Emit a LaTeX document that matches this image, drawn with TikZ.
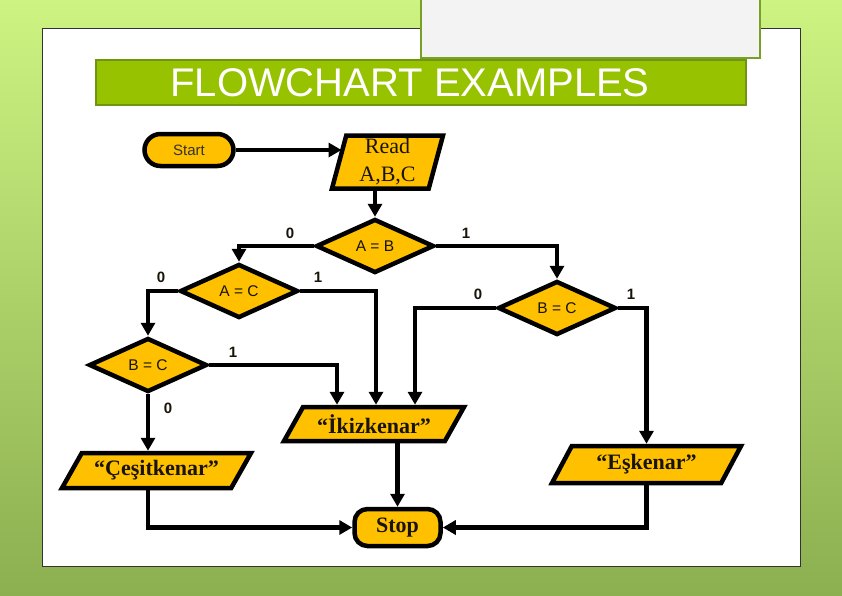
\documentclass[tikz,border=0pt]{standalone}
\usepackage{fontspec}
\setmainfont{Liberation Serif}
\setsansfont{Liberation Sans}
\usetikzlibrary{shapes.geometric,arrows.meta,calc}
\definecolor{gold}{RGB}{255,192,0}
\definecolor{bgtop}{RGB}{205,243,130}
\definecolor{bgbot}{RGB}{140,175,80}
\definecolor{titlefill}{RGB}{151,194,0}
\definecolor{titlebord}{RGB}{110,150,20}
\definecolor{grayfill}{RGB}{243,243,243}
\definecolor{graybord}{RGB}{120,160,40}
\definecolor{txt}{RGB}{25,20,10}
\tikzset{
  box/.style={draw=black, line width=4.5pt, fill=gold, text=txt},
  term/.style={box, rectangle, rounded corners=16pt, minimum width=89pt, minimum height=32pt, inner sep=0pt},
  stopbox/.style={box, rectangle, rounded corners=13pt, minimum width=86pt, minimum height=37pt, inner sep=0pt, font=\bfseries\fontsize{22}{24}\selectfont},
  dec/.style={box, diamond, minimum width=118pt, minimum height=54pt, inner sep=0pt, font=\sffamily\fontsize{15.5}{15.5}\selectfont},
  io/.style={box, trapezium, trapezium left angle=45, trapezium right angle=135, trapezium stretches body, inner sep=0pt, font=\bfseries\fontsize{22}{24}\selectfont},
  readbox/.style={box, trapezium, trapezium left angle=73, trapezium right angle=107, trapezium stretches body, inner sep=0pt, align=center, font=\fontsize{22}{28}\selectfont},
  conn/.style={line width=4.5pt, -{Triangle[length=13pt,width=14pt]}},
  lbl/.style={font=\sffamily\bfseries\fontsize{15}{15}\selectfont, text=txt}
}
\begin{document}
\begin{tikzpicture}[x=1pt,y=-1pt]
\useasboundingbox (0,0) rectangle (842,595);
\shade[top color=bgtop, bottom color=bgbot] (0,0) rectangle (842,595);
\draw[draw=black!80, line width=1pt, fill=white] (42,28) rectangle (800,566);
\draw[draw=graybord, line width=2pt, fill=grayfill] (421,-5) rectangle (760,58);
\node[draw=titlebord, line width=1.5pt, fill=titlefill, minimum width=650pt, minimum height=45pt, inner sep=0pt] (title) at (421,82.5) {};
\node[font=\sffamily\fontsize{40}{40}\selectfont, text=white, inner sep=0pt] (ttl) at (410,83) {FLOWCHART EXAMPLES};

\node[term, font=\sffamily\fontsize{15}{15}\selectfont, text=black!80] (start) at (189,150) {Start};
\node[readbox, minimum width=111pt, minimum height=53pt] (read) at (387.5,162) {Read\\A,B,C};
\node[dec] (ab) at (375,246) {A = B};
\node[dec] (ac) at (239,291) {A = C};
\node[dec] (bcl) at (148,365) {B = C};
\node[dec] (bcr) at (557,308) {B = C};
\node[io, minimum width=180pt, minimum height=34pt] (ikiz) at (374,424) {“İkizkenar”};
\node[io, minimum width=189pt, minimum height=35pt] (ces) at (156.5,470.5) {“Çeşitkenar”};
\node[io, minimum width=189pt, minimum height=37pt] (esk) at (646.5,464.5) {“Eşkenar”};
\node[stopbox] (stop) at (397.5,527.5) {Stop};

\draw[conn] (start.east) -- ($(read.center |- start.east)+(-46,0)$);
\draw[conn] (read.south -| ab.north) -- (ab.north);
\draw[conn] (ab.west) -| (ac.north);
\draw[conn] (ab.east) -| (bcr.north);
\draw[conn] (ac.west) -| (bcl.north);
\draw[conn] (ac.east) -| ($(ikiz.center |- ikiz.north)+(2,0)$);
\draw[conn] (bcl.east) -| ($(ikiz.center |- ikiz.north)+(-37,0)$);
\draw[conn] (bcr.west) -| ($(ikiz.center |- ikiz.north)+(41,0)$);
\draw[conn] (bcr.east) -| (esk.center |- esk.north);
\draw[conn] (bcl.south) -- (bcl.south |- ces.north);
\draw[conn] (stop.north |- ikiz.south) -- (stop.north);
\draw[conn] (bcl.south |- ces.south) |- (stop.west);
\draw[conn] (esk.center |- esk.south) |- (stop.east);

\node[lbl] (l1) at (290,233) {0};
\node[lbl] (l2) at (466,233) {1};
\node[lbl] (l3) at (161,277) {0};
\node[lbl] (l4) at (318,277) {1};
\node[lbl] (l5) at (233,352) {1};
\node[lbl] (l6) at (168,408) {0};
\node[lbl] (l7) at (478,294) {0};
\node[lbl] (l8) at (631,294) {1};
\end{tikzpicture}
\end{document}
